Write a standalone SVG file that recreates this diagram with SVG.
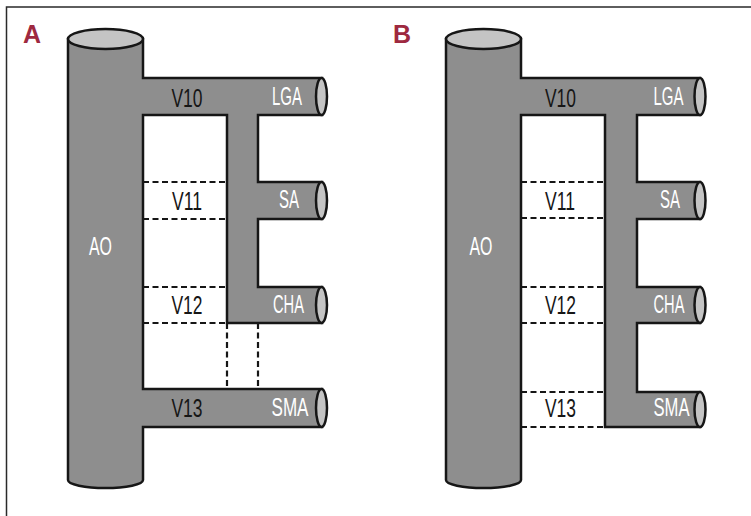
<svg xmlns="http://www.w3.org/2000/svg" width="751" height="516" viewBox="0 0 751 516">
  <style>
    .vessel { fill: #8e8e8e; stroke: #161616; stroke-width: 2.5; stroke-linejoin: miter; }
    .lumen { fill: #c4c4c4; stroke: #161616; stroke-width: 2.5; }
    .dash { fill: none; stroke: #161616; stroke-width: 2.2; stroke-dasharray: 6 3.5; }
    .frame { fill: none; stroke: #2a2a2a; stroke-width: 1.5; }
    .lbl { font-family: "Liberation Sans", Arial, sans-serif; font-size: 25px; text-anchor: middle; }
    .dark { fill: #161616; }
    .light { fill: #ffffff; }
    .panel { font-family: "Liberation Sans", Arial, sans-serif; font-size: 25px; font-weight: bold; fill: #9e2940; }
  </style>

  <rect width="751" height="516" fill="#ffffff"/>
  <!-- figure frame: top and left rules -->
  <path class="frame" d="M6.5,516 V7 H751"/>

  <!-- Panel A -->
  <g id="panel-a">
    <text class="panel" x="23" y="43">A</text>
    <g id="a-vessels">
      <path class="vessel" d="M68,39 L68,480 A37.5,8 0 0 0 143,480 L143,427 L322,427 L322,389 L143,389 L143,115 L227,115 L227,323 L322,323 L322,287 L258,287 L258,219 L322,219 L322,182 L258,182 L258,115 L322,115 L322,78 L143,78 L143,39 Z"/>
      <ellipse class="lumen" cx="105.5" cy="39" rx="37.5" ry="10"/>
      <ellipse class="lumen" cx="321.5" cy="96.5" rx="5.5" ry="18.5"/>
      <ellipse class="lumen" cx="321.5" cy="200.5" rx="5.5" ry="18.5"/>
      <ellipse class="lumen" cx="321.5" cy="305" rx="5.5" ry="18"/>
      <ellipse class="lumen" cx="321.5" cy="408" rx="5.5" ry="19"/>
    </g>
    <g id="a-connectors">
      <path class="dash" d="M143,182 H227 M143,219 H227 M143,287 H227 M143,323 H227 M227,323 V389 M258,323 V389"/>
    </g>
    <g id="a-labels">
      <text class="lbl dark" x="187" y="107" textLength="31" lengthAdjust="spacingAndGlyphs">V10</text>
      <text class="lbl light" x="287" y="105" textLength="30" lengthAdjust="spacingAndGlyphs">LGA</text>
      <text class="lbl dark" x="187" y="210" textLength="30" lengthAdjust="spacingAndGlyphs">V11</text>
      <text class="lbl light" x="289" y="208" textLength="20" lengthAdjust="spacingAndGlyphs">SA</text>
      <text class="lbl light" x="100.5" y="255" textLength="23" lengthAdjust="spacingAndGlyphs">AO</text>
      <text class="lbl dark" x="187" y="314" textLength="31" lengthAdjust="spacingAndGlyphs">V12</text>
      <text class="lbl light" x="288.5" y="312.5" textLength="31" lengthAdjust="spacingAndGlyphs">CHA</text>
      <text class="lbl dark" x="187" y="416.5" textLength="31" lengthAdjust="spacingAndGlyphs">V13</text>
      <text class="lbl light" x="290" y="416" textLength="37" lengthAdjust="spacingAndGlyphs">SMA</text>
    </g>
  </g>

  <!-- Panel B -->
  <g id="panel-b">
    <text class="panel" x="393" y="43">B</text>
    <g id="b-vessels">
      <path class="vessel" d="M446,39 L446,480 A37.5,8 0 0 0 521,480 L521,115 L605,115 L605,427 L700,427 L700,392 L637,392 L637,323 L700,323 L700,287 L637,287 L637,219 L700,219 L700,182 L637,182 L637,115 L700,115 L700,78 L521,78 L521,39 Z"/>
      <ellipse class="lumen" cx="483.5" cy="39" rx="37.5" ry="10"/>
      <ellipse class="lumen" cx="700" cy="96.5" rx="5.5" ry="18.5"/>
      <ellipse class="lumen" cx="700" cy="200.5" rx="5.5" ry="18.5"/>
      <ellipse class="lumen" cx="700" cy="305" rx="5.5" ry="18"/>
      <ellipse class="lumen" cx="700" cy="409.5" rx="5.5" ry="17.5"/>
    </g>
    <g id="b-connectors">
      <path class="dash" d="M521,182 H605 M521,218 H605 M521,287 H605 M521,323 H605 M521,392 H605 M521,427 H605"/>
    </g>
    <g id="b-labels">
      <text class="lbl dark" x="560.5" y="107" textLength="31" lengthAdjust="spacingAndGlyphs">V10</text>
      <text class="lbl light" x="668.5" y="105" textLength="30" lengthAdjust="spacingAndGlyphs">LGA</text>
      <text class="lbl dark" x="560" y="210" textLength="30" lengthAdjust="spacingAndGlyphs">V11</text>
      <text class="lbl light" x="670" y="208" textLength="20" lengthAdjust="spacingAndGlyphs">SA</text>
      <text class="lbl light" x="481" y="255" textLength="23" lengthAdjust="spacingAndGlyphs">AO</text>
      <text class="lbl dark" x="560.5" y="314" textLength="31" lengthAdjust="spacingAndGlyphs">V12</text>
      <text class="lbl light" x="669" y="312.5" textLength="31" lengthAdjust="spacingAndGlyphs">CHA</text>
      <text class="lbl dark" x="560.5" y="416.5" textLength="31" lengthAdjust="spacingAndGlyphs">V13</text>
      <text class="lbl light" x="671.5" y="416" textLength="36" lengthAdjust="spacingAndGlyphs">SMA</text>
    </g>
  </g>
</svg>
